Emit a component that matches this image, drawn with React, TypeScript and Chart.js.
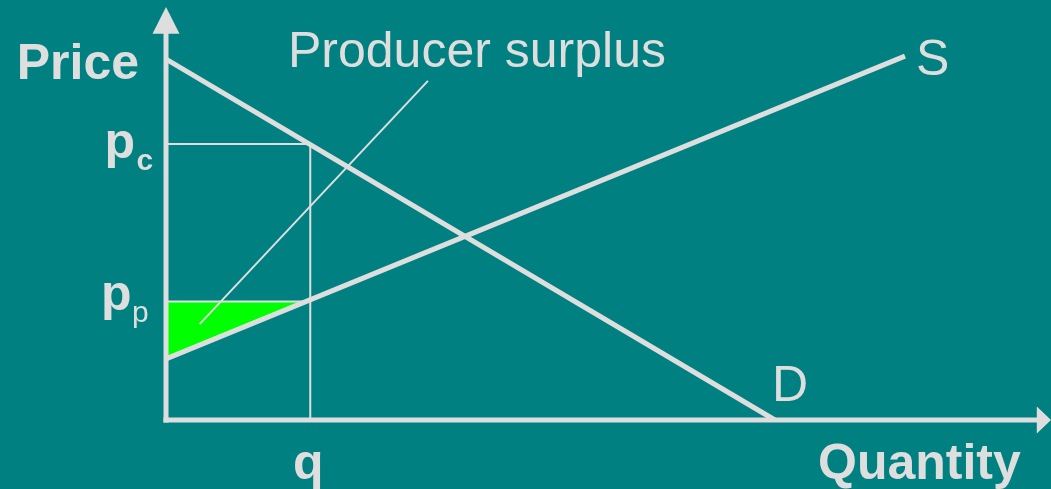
import React, { useEffect, useRef } from "react";
import { Chart, registerables } from "chart.js";

Chart.register(...registerables);

// ---- data (economic units, 0..100 on both axes) ----
const demandQ = [0, 68.8];
const demandP = [87.4, 0];
const supplyQ = [0, 83.5];
const supplyP = [14.8, 88.1];
const qValue = 16.3;
const pcValue = 66.8;
const ppValue = 28.7;
const calloutQ = [29.6, 3.8];
const calloutP = [82.1, 23.2];
const axisMax = 100;
const xAxisLineEnd = 98.4;
const yAxisLineEnd = 93.5;

const yAxisTitle = "Price";
const xAxisTitle = "Quantity";
const surplusLabel = "Producer surplus";
const supplyLabel = "S";
const demandLabel = "D";
const qLabel = "q";
const pcLabel = ["p", "c"];
const ppLabel = ["p", "p"];

const BG = "#008080";
const FG = "#DEDEDE";
const GREEN = "#00FF00";
const FONT = "'Liberation Sans', Arial, sans-serif";

const zip = (xs: number[], ys: number[]) => xs.map((x, i) => ({ x, y: ys[i] }));

const overlayPlugin = {
  id: "overlay",
  afterDatasetsDraw(chart: any) {
    const { ctx } = chart;
    const xs = chart.scales.x;
    const ys = chart.scales.y;
    const px = (v: number) => xs.getPixelForValue(v);
    const py = (v: number) => ys.getPixelForValue(v);
    ctx.save();
    ctx.fillStyle = FG;
    // arrowheads
    const ox = px(0);
    const oy = py(0);
    ctx.beginPath();
    ctx.moveTo(ox, py(axisMax));
    ctx.lineTo(ox + 13.5, py(yAxisLineEnd));
    ctx.lineTo(ox - 13.5, py(yAxisLineEnd));
    ctx.closePath();
    ctx.fill();
    ctx.beginPath();
    ctx.moveTo(px(axisMax), oy);
    ctx.lineTo(px(xAxisLineEnd), oy - 13.5);
    ctx.lineTo(px(xAxisLineEnd), oy + 13.5);
    ctx.closePath();
    ctx.fill();

    ctx.textBaseline = "alphabetic";
    // axis titles
    ctx.font = `bold 50px ${FONT}`;
    ctx.textAlign = "right";
    ctx.fillText(yAxisTitle, ox - 27, 79);
    ctx.textAlign = "left";
    ctx.fillText(xAxisTitle, 818, oy + 59);
    // q
    ctx.textAlign = "center";
    ctx.fillText(qLabel, px(qValue) - 2, oy + 59);
    // pc
    ctx.textAlign = "left";
    ctx.fillText(pcLabel[0], 104.5, py(pcValue) + 14);
    ctx.font = `bold 30px ${FONT}`;
    ctx.fillText(pcLabel[1], 136.5, py(pcValue) + 25.5);
    // pp
    ctx.font = `bold 50px ${FONT}`;
    ctx.fillText(ppLabel[0], 101, py(ppValue) + 9);
    ctx.font = `30px ${FONT}`;
    ctx.fillText(ppLabel[1], 132, py(ppValue) + 21);
    // line labels
    ctx.font = `50px ${FONT}`;
    ctx.fillText(surplusLabel, 288, 67);
    ctx.fillText(supplyLabel, px(supplyQ[1]) + 11, py(supplyP[1]) + 19);
    ctx.fillText(demandLabel, px(demandQ[1]) - 3, oy - 19);
    ctx.restore();
  },
};

export default function App() {
  const ref = useRef<HTMLCanvasElement | null>(null);
  useEffect(() => {
    if (!ref.current) return;
    const line = (data: any[], width: number, extra: any = {}) => ({
      data,
      showLine: true,
      borderColor: FG,
      borderWidth: width,
      pointRadius: 0,
      fill: false,
      clip: false,
      ...extra,
    });
    const chart = new Chart(ref.current, {
      type: "scatter",
      data: {
        datasets: [
          line(zip(demandQ, demandP), 5),
          line(zip(supplyQ, supplyP), 5),
          line([{ x: 0, y: 0 }, { x: xAxisLineEnd, y: 0 }], 5, { borderCapStyle: "square" }),
          line([{ x: 0, y: 0 }, { x: 0, y: yAxisLineEnd }], 5, { borderCapStyle: "square" }),
          line([{ x: 0, y: pcValue }, { x: qValue, y: pcValue }, { x: qValue, y: 0 }], 2),
          line([{ x: 0, y: ppValue }, { x: qValue, y: ppValue }], 2),
          line(zip(calloutQ, calloutP), 2),
          {
            data: [
              { x: 0, y: supplyP[0] },
              { x: qValue, y: ppValue },
              { x: 0, y: ppValue },
              { x: 0, y: supplyP[0] },
            ],
            showLine: true,
            borderWidth: 0,
            borderColor: GREEN,
            backgroundColor: GREEN,
            pointRadius: 0,
            fill: "shape",
          },
        ],
      },
      options: {
        responsive: false,
        animation: false,
        events: [],
        layout: { padding: { left: 166, right: 0, top: 7, bottom: 69 } },
        scales: {
          x: { type: "linear", min: 0, max: axisMax, display: false },
          y: { type: "linear", min: 0, max: axisMax, display: false },
        },
        plugins: { legend: { display: false }, tooltip: { enabled: false } },
      },
      plugins: [overlayPlugin],
    } as any);
    return () => chart.destroy();
  }, []);
  return (
    <div style={{ position: "fixed", left: 0, top: 0, width: 1051, height: 489, background: BG }}>
      <canvas ref={ref} width={1051} height={489} style={{ display: "block" }} />
    </div>
  );
}
